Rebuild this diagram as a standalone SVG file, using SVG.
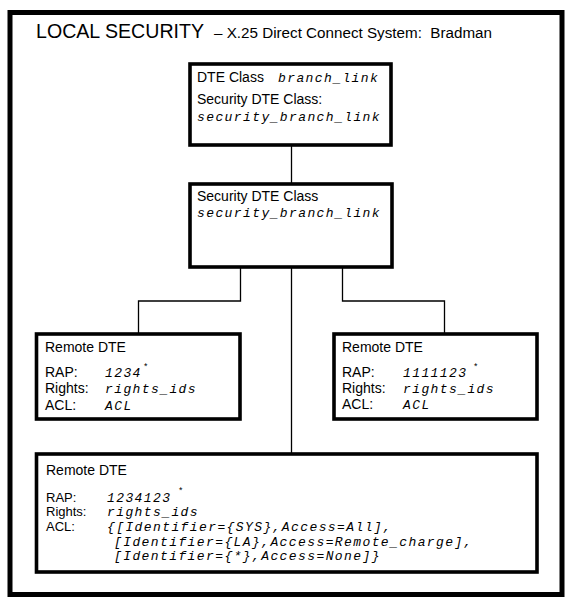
<svg xmlns="http://www.w3.org/2000/svg" width="574" height="610" viewBox="0 0 574 610">
<style>
.frame{fill:none;stroke:#000;stroke-width:5}
.box{fill:#fff;stroke:#000;stroke-width:3.6}
.conn{fill:none;stroke:#000;stroke-width:1.3}
.s{font-family:"Liberation Sans",Arial,Helvetica,sans-serif;font-size:14px;fill:#000;white-space:pre}
.lb{font-size:13px}
.m{font-family:"Liberation Mono","Courier New",monospace;font-style:italic;font-size:13px;letter-spacing:1.4px;fill:#000;white-space:pre}
.ast{font-family:"Liberation Mono","Courier New",monospace;font-size:9px;fill:#000}
</style>
<rect width="574" height="610" fill="#fff"/>
<rect class="frame" x="10" y="12.5" width="552" height="582"/>
<g id="title">
<text class="s" x="36" y="38" style="font-size:20.5px" textLength="168" lengthAdjust="spacingAndGlyphs">LOCAL SECURITY</text>
<text class="s" x="214" y="38" textLength="278" lengthAdjust="spacingAndGlyphs">– X.25 Direct Connect System:  Bradman</text>
</g>
<g id="connectors">
<line class="conn" x1="291.5" y1="146" x2="291.5" y2="184"/>
<line class="conn" x1="291.5" y1="267" x2="291.5" y2="454"/>
<polyline class="conn" points="240.5,267 240.5,301 138.5,301 138.5,334"/>
<polyline class="conn" points="342.5,267 342.5,301 444.5,301 444.5,334"/>
</g>
<g id="dte-class">
<rect class="box" x="190" y="64" width="201" height="81"/>
<text class="s" x="197" y="82">DTE Class</text>
<text class="m" x="278" y="82">branch_link</text>
<text class="s" x="197" y="104">Security DTE Class:</text>
<text class="m" x="197" y="121">security_branch_link</text>
</g>
<g id="security-dte-class">
<rect class="box" x="190" y="184" width="202" height="83"/>
<text class="s" x="197" y="201">Security DTE Class</text>
<text class="m" x="197" y="217">security_branch_link</text>
</g>
<g id="remote-dte-left">
<rect class="box" x="36.5" y="334" width="203.5" height="85"/>
<text class="s" x="45" y="352">Remote DTE</text>
<text class="s" x="45" y="377">RAP:</text>
<text class="m" x="105" y="377">1234</text>
<text class="ast" x="143" y="370">*</text>
<text class="s" x="45" y="393">Rights:</text>
<text class="m" x="105" y="393">rights_ids</text>
<text class="s" x="45" y="410">ACL:</text>
<text class="m" x="105" y="410">ACL</text>
</g>
<g id="remote-dte-right">
<rect class="box" x="334" y="334" width="203" height="85"/>
<text class="s" x="342" y="352">Remote DTE</text>
<text class="s" x="342" y="377">RAP:</text>
<text class="m" x="403" y="377">1111123</text>
<text class="ast" x="473" y="370">*</text>
<text class="s" x="342" y="393">Rights:</text>
<text class="m" x="403" y="393">rights_ids</text>
<text class="s" x="342" y="409">ACL:</text>
<text class="m" x="403" y="409">ACL</text>
</g>
<g id="remote-dte-bottom">
<rect class="box" x="36.5" y="454" width="500.5" height="118"/>
<text class="s" x="46" y="475">Remote DTE</text>
<text class="s lb" x="46" y="502">RAP:</text>
<text class="m" x="107" y="502">1234123</text>
<text class="ast" x="178" y="494">*</text>
<text class="s lb" x="46" y="516">Rights:</text>
<text class="m" x="107" y="516">rights_ids</text>
<text class="s lb" x="46" y="531">ACL:</text>
<text class="m" x="107" y="531">{[Identifier={SYS},Access=All],</text>
<text class="m" x="114" y="546">[Identifier={LA},Access=Remote_charge],</text>
<text class="m" x="114" y="560">[Identifier={*},Access=None]}</text>
</g>
</svg>
